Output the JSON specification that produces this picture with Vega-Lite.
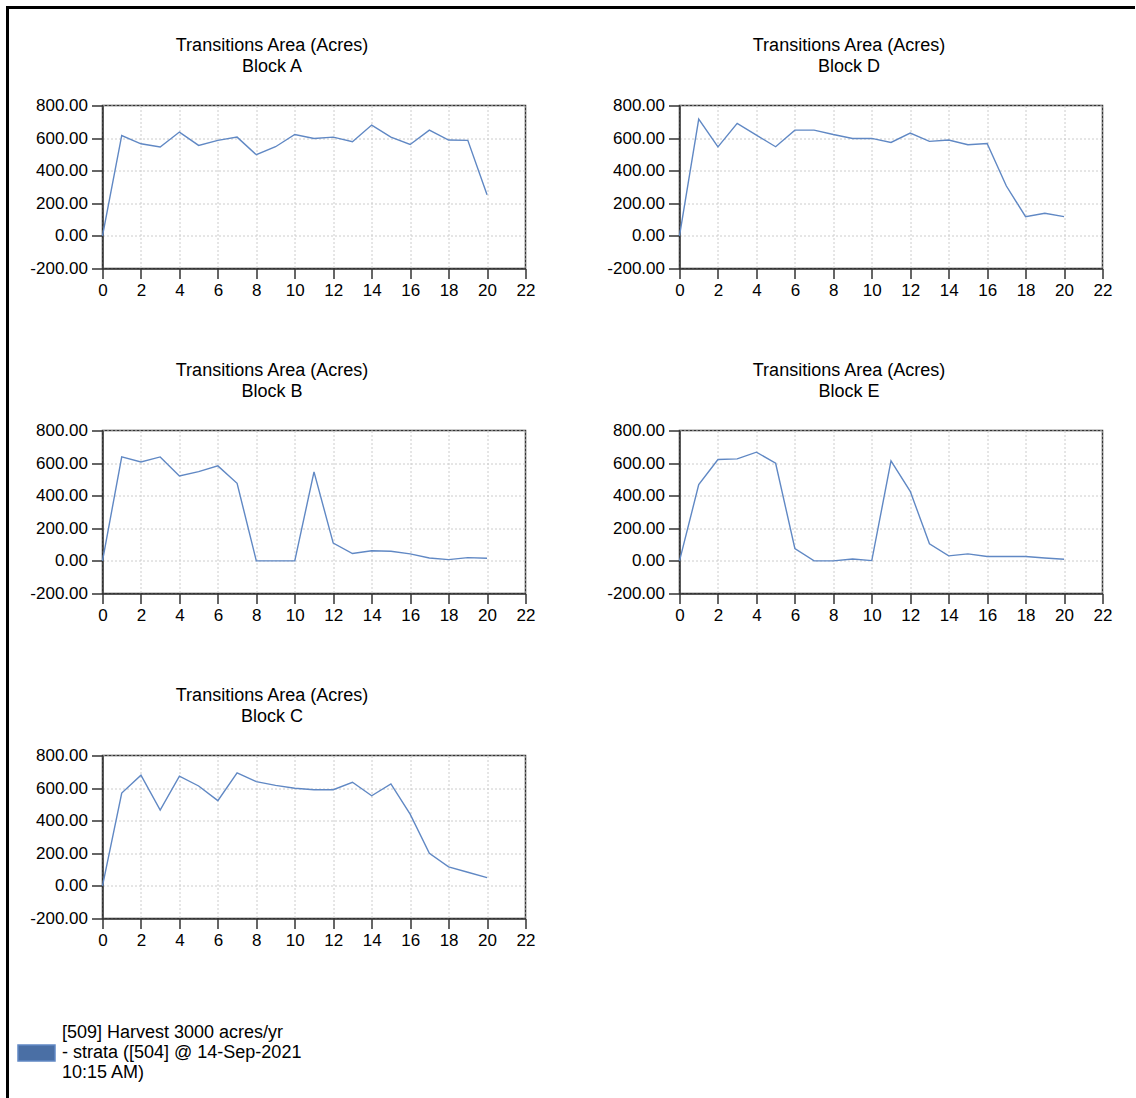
{
  "$schema": "https://vega.github.io/schema/vega-lite/v6.json",
  "padding": {"left": 5.5, "top": 5.5, "right": 0, "bottom": 0},
  "background": "white",
  "config": {
    "font": "Liberation Sans",
    "view": {"stroke": "#333333", "strokeWidth": 1.5},
    "axis": {
      "title": null,
      "labelFont": "Liberation Sans",
      "labelFontSize": 17,
      "labelColor": "#000000",
      "domainColor": "#333333",
      "domainWidth": 1.5,
      "tickColor": "#333333",
      "tickWidth": 1.5,
      "gridColor": "#cccccc",
      "gridDash": [2, 2],
      "gridWidth": 1,
      "labelFlush": false,
      "labelOverlap": false
    },
    "axisX": {"tickSize": 10, "labelPadding": 4},
    "axisY": {"tickSize": 11, "labelPadding": 4},
    "title": {
      "font": "Liberation Sans",
      "fontSize": 18,
      "fontWeight": "normal",
      "color": "#000000",
      "lineHeight": 20.5,
      "anchor": "middle",
      "dx": -42,
      "offset": 21,
      "baseline": "alphabetic"
    },
    "legend": {
      "padding": 0,
      "orient": "none",
      "legendX": 9.5,
      "legendY": 1006,
      "symbolType": "M-1,0.65H1V1.51H-1Z",
      "symbolSize": 1369,
      "symbolFillColor": "#4a6fa5",
      "symbolStrokeColor": "#1a1a1a",
      "symbolStrokeWidth": 1.5,
      "labelFont": "Liberation Sans",
      "labelFontSize": 18,
      "labelColor": "#000000",
      "labelLimit": 600,
      "labelOffset": 6
    }
  },
  "datasets": {
    "transitions": [
      {"block": "Block A", "timestep": 0, "acres": 0},
      {"block": "Block A", "timestep": 1, "acres": 616},
      {"block": "Block A", "timestep": 2, "acres": 565},
      {"block": "Block A", "timestep": 3, "acres": 545},
      {"block": "Block A", "timestep": 4, "acres": 637},
      {"block": "Block A", "timestep": 5, "acres": 555},
      {"block": "Block A", "timestep": 6, "acres": 586},
      {"block": "Block A", "timestep": 7, "acres": 606},
      {"block": "Block A", "timestep": 8, "acres": 498},
      {"block": "Block A", "timestep": 9, "acres": 547},
      {"block": "Block A", "timestep": 10, "acres": 622},
      {"block": "Block A", "timestep": 11, "acres": 598},
      {"block": "Block A", "timestep": 12, "acres": 606},
      {"block": "Block A", "timestep": 13, "acres": 578},
      {"block": "Block A", "timestep": 14, "acres": 680},
      {"block": "Block A", "timestep": 15, "acres": 606},
      {"block": "Block A", "timestep": 16, "acres": 561},
      {"block": "Block A", "timestep": 17, "acres": 649},
      {"block": "Block A", "timestep": 18, "acres": 588},
      {"block": "Block A", "timestep": 19, "acres": 586},
      {"block": "Block A", "timestep": 20, "acres": 252},
      {"block": "Block D", "timestep": 0, "acres": 0},
      {"block": "Block D", "timestep": 1, "acres": 716},
      {"block": "Block D", "timestep": 2, "acres": 546},
      {"block": "Block D", "timestep": 3, "acres": 690},
      {"block": "Block D", "timestep": 4, "acres": 618},
      {"block": "Block D", "timestep": 5, "acres": 547},
      {"block": "Block D", "timestep": 6, "acres": 649},
      {"block": "Block D", "timestep": 7, "acres": 649},
      {"block": "Block D", "timestep": 8, "acres": 622},
      {"block": "Block D", "timestep": 9, "acres": 598},
      {"block": "Block D", "timestep": 10, "acres": 598},
      {"block": "Block D", "timestep": 11, "acres": 573},
      {"block": "Block D", "timestep": 12, "acres": 631},
      {"block": "Block D", "timestep": 13, "acres": 580},
      {"block": "Block D", "timestep": 14, "acres": 588},
      {"block": "Block D", "timestep": 15, "acres": 559},
      {"block": "Block D", "timestep": 16, "acres": 567},
      {"block": "Block D", "timestep": 17, "acres": 306},
      {"block": "Block D", "timestep": 18, "acres": 118},
      {"block": "Block D", "timestep": 19, "acres": 139},
      {"block": "Block D", "timestep": 20, "acres": 118},
      {"block": "Block B", "timestep": 0, "acres": 0},
      {"block": "Block B", "timestep": 1, "acres": 638},
      {"block": "Block B", "timestep": 2, "acres": 607},
      {"block": "Block B", "timestep": 3, "acres": 638},
      {"block": "Block B", "timestep": 4, "acres": 521},
      {"block": "Block B", "timestep": 5, "acres": 548},
      {"block": "Block B", "timestep": 6, "acres": 583},
      {"block": "Block B", "timestep": 7, "acres": 476},
      {"block": "Block B", "timestep": 8, "acres": 0},
      {"block": "Block B", "timestep": 9, "acres": 0},
      {"block": "Block B", "timestep": 10, "acres": 0},
      {"block": "Block B", "timestep": 11, "acres": 546},
      {"block": "Block B", "timestep": 12, "acres": 109},
      {"block": "Block B", "timestep": 13, "acres": 45},
      {"block": "Block B", "timestep": 14, "acres": 62},
      {"block": "Block B", "timestep": 15, "acres": 59},
      {"block": "Block B", "timestep": 16, "acres": 43},
      {"block": "Block B", "timestep": 17, "acres": 18},
      {"block": "Block B", "timestep": 18, "acres": 8},
      {"block": "Block B", "timestep": 19, "acres": 20},
      {"block": "Block B", "timestep": 20, "acres": 16},
      {"block": "Block E", "timestep": 0, "acres": 0},
      {"block": "Block E", "timestep": 1, "acres": 468},
      {"block": "Block E", "timestep": 2, "acres": 622},
      {"block": "Block E", "timestep": 3, "acres": 626},
      {"block": "Block E", "timestep": 4, "acres": 667},
      {"block": "Block E", "timestep": 5, "acres": 599},
      {"block": "Block E", "timestep": 6, "acres": 76},
      {"block": "Block E", "timestep": 7, "acres": 0},
      {"block": "Block E", "timestep": 8, "acres": 0},
      {"block": "Block E", "timestep": 9, "acres": 12},
      {"block": "Block E", "timestep": 10, "acres": 2},
      {"block": "Block E", "timestep": 11, "acres": 613},
      {"block": "Block E", "timestep": 12, "acres": 427},
      {"block": "Block E", "timestep": 13, "acres": 105},
      {"block": "Block E", "timestep": 14, "acres": 31},
      {"block": "Block E", "timestep": 15, "acres": 43},
      {"block": "Block E", "timestep": 16, "acres": 27},
      {"block": "Block E", "timestep": 17, "acres": 27},
      {"block": "Block E", "timestep": 18, "acres": 27},
      {"block": "Block E", "timestep": 19, "acres": 18},
      {"block": "Block E", "timestep": 20, "acres": 10},
      {"block": "Block C", "timestep": 0, "acres": 0},
      {"block": "Block C", "timestep": 1, "acres": 570},
      {"block": "Block C", "timestep": 2, "acres": 679},
      {"block": "Block C", "timestep": 3, "acres": 465},
      {"block": "Block C", "timestep": 4, "acres": 673},
      {"block": "Block C", "timestep": 5, "acres": 613},
      {"block": "Block C", "timestep": 6, "acres": 523},
      {"block": "Block C", "timestep": 7, "acres": 693},
      {"block": "Block C", "timestep": 8, "acres": 640},
      {"block": "Block C", "timestep": 9, "acres": 617},
      {"block": "Block C", "timestep": 10, "acres": 599},
      {"block": "Block C", "timestep": 11, "acres": 590},
      {"block": "Block C", "timestep": 12, "acres": 590},
      {"block": "Block C", "timestep": 13, "acres": 636},
      {"block": "Block C", "timestep": 14, "acres": 553},
      {"block": "Block C", "timestep": 15, "acres": 626},
      {"block": "Block C", "timestep": 16, "acres": 440},
      {"block": "Block C", "timestep": 17, "acres": 200},
      {"block": "Block C", "timestep": 18, "acres": 117},
      {"block": "Block C", "timestep": 19, "acres": 84},
      {"block": "Block C", "timestep": 20, "acres": 51}
    ]
  },
  "bounds": "flush",
  "spacing": 0,
  "vconcat": [
    {
      "width": 1126,
      "height": 0.01,
      "view": {"stroke": "#000000", "strokeWidth": 3},
      "data": {"values": []},
      "mark": "point"
    },
    {
      "bounds": "flush",
      "spacing": 94,
      "hconcat": [
        {
          "width": 0.01,
          "height": 1088,
          "view": {"stroke": "#000000", "strokeWidth": 3},
          "data": {"values": []},
          "mark": "point"
        },
        {
          "bounds": "flush",
          "spacing": 96,
          "vconcat": [
            {
              "width": 0.01,
              "height": 0.01,
              "view": {"stroke": null},
              "data": {"values": []},
              "mark": "point"
            },
            {
              "bounds": "flush",
              "spacing": 325,
              "vconcat": [
                {
                  "bounds": "flush",
                  "spacing": 154,
                  "hconcat": [
                    {
                      "width": 423, "height": 163,
                      "title": {"text": ["Transitions Area (Acres)", "Block A"]},
                      "data": {"name": "transitions"},
                      "transform": [{"filter": "datum.block === 'Block A'"}],
                      "mark": {"type": "line", "strokeWidth": 1.4},
                      "encoding": {
                        "x": {"field": "timestep", "type": "quantitative", "scale": {"domain": [0, 22], "nice": false}, "axis": {"values": [0, 2, 4, 6, 8, 10, 12, 14, 16, 18, 20, 22]}},
                        "y": {"field": "acres", "type": "quantitative", "scale": {"domain": [-200, 800], "nice": false, "zero": false}, "axis": {"values": [-200, 0, 200, 400, 600, 800], "labelExpr": "(datum.value < 0 ? '-' : '') + format(abs(datum.value), '.2f')"}},
                        "color": {
                          "datum": "[509] Harvest 3000 acres/yr - strata ([504] @ 14-Sep-2021 10:15 AM)",
                          "type": "nominal",
                          "scale": {"range": ["#6088c4"]},
                          "legend": {
                            "title": null,
                            "labelExpr": "[slice(datum.label, 0, 27), slice(datum.label, 28, 57), slice(datum.label, 58)]",
                            "encoding": {
                              "symbols": {"update": {"fill": {"value": "#4a6fa5"}, "fillOpacity": {"value": 1}, "stroke": {"value": "#1a1a1a"}, "strokeWidth": {"value": 1.5}, "opacity": {"value": 1}}},
                              "labels": {"update": {"lineHeight": {"value": 20}}}
                            }
                          }
                        }
                      }
                    },
                    {
                      "width": 423, "height": 163,
                      "title": {"text": ["Transitions Area (Acres)", "Block D"]},
                      "data": {"name": "transitions"},
                      "transform": [{"filter": "datum.block === 'Block D'"}],
                      "mark": {"type": "line", "strokeWidth": 1.4},
                      "encoding": {
                        "x": {"field": "timestep", "type": "quantitative", "scale": {"domain": [0, 22], "nice": false}, "axis": {"values": [0, 2, 4, 6, 8, 10, 12, 14, 16, 18, 20, 22]}},
                        "y": {"field": "acres", "type": "quantitative", "scale": {"domain": [-200, 800], "nice": false, "zero": false}, "axis": {"values": [-200, 0, 200, 400, 600, 800], "labelExpr": "(datum.value < 0 ? '-' : '') + format(abs(datum.value), '.2f')"}},
                        "color": {
                          "datum": "[509] Harvest 3000 acres/yr - strata ([504] @ 14-Sep-2021 10:15 AM)",
                          "type": "nominal",
                          "legend": {
                            "title": null,
                            "labelExpr": "[slice(datum.label, 0, 27), slice(datum.label, 28, 57), slice(datum.label, 58)]",
                            "encoding": {
                              "symbols": {"update": {"fill": {"value": "#4a6fa5"}, "fillOpacity": {"value": 1}, "stroke": {"value": "#1a1a1a"}, "strokeWidth": {"value": 1.5}, "opacity": {"value": 1}}},
                              "labels": {"update": {"lineHeight": {"value": 20}}}
                            }
                          }
                        }
                      }
                    }
                  ]
                },
                {
                  "bounds": "flush",
                  "spacing": 154,
                  "hconcat": [
                    {
                      "width": 423, "height": 163,
                      "title": {"text": ["Transitions Area (Acres)", "Block B"]},
                      "data": {"name": "transitions"},
                      "transform": [{"filter": "datum.block === 'Block B'"}],
                      "mark": {"type": "line", "strokeWidth": 1.4},
                      "encoding": {
                        "x": {"field": "timestep", "type": "quantitative", "scale": {"domain": [0, 22], "nice": false}, "axis": {"values": [0, 2, 4, 6, 8, 10, 12, 14, 16, 18, 20, 22]}},
                        "y": {"field": "acres", "type": "quantitative", "scale": {"domain": [-200, 800], "nice": false, "zero": false}, "axis": {"values": [-200, 0, 200, 400, 600, 800], "labelExpr": "(datum.value < 0 ? '-' : '') + format(abs(datum.value), '.2f')"}},
                        "color": {
                          "datum": "[509] Harvest 3000 acres/yr - strata ([504] @ 14-Sep-2021 10:15 AM)",
                          "type": "nominal",
                          "legend": {
                            "title": null,
                            "labelExpr": "[slice(datum.label, 0, 27), slice(datum.label, 28, 57), slice(datum.label, 58)]",
                            "encoding": {
                              "symbols": {"update": {"fill": {"value": "#4a6fa5"}, "fillOpacity": {"value": 1}, "stroke": {"value": "#1a1a1a"}, "strokeWidth": {"value": 1.5}, "opacity": {"value": 1}}},
                              "labels": {"update": {"lineHeight": {"value": 20}}}
                            }
                          }
                        }
                      }
                    },
                    {
                      "width": 423, "height": 163,
                      "title": {"text": ["Transitions Area (Acres)", "Block E"]},
                      "data": {"name": "transitions"},
                      "transform": [{"filter": "datum.block === 'Block E'"}],
                      "mark": {"type": "line", "strokeWidth": 1.4},
                      "encoding": {
                        "x": {"field": "timestep", "type": "quantitative", "scale": {"domain": [0, 22], "nice": false}, "axis": {"values": [0, 2, 4, 6, 8, 10, 12, 14, 16, 18, 20, 22]}},
                        "y": {"field": "acres", "type": "quantitative", "scale": {"domain": [-200, 800], "nice": false, "zero": false}, "axis": {"values": [-200, 0, 200, 400, 600, 800], "labelExpr": "(datum.value < 0 ? '-' : '') + format(abs(datum.value), '.2f')"}},
                        "color": {
                          "datum": "[509] Harvest 3000 acres/yr - strata ([504] @ 14-Sep-2021 10:15 AM)",
                          "type": "nominal",
                          "legend": {
                            "title": null,
                            "labelExpr": "[slice(datum.label, 0, 27), slice(datum.label, 28, 57), slice(datum.label, 58)]",
                            "encoding": {
                              "symbols": {"update": {"fill": {"value": "#4a6fa5"}, "fillOpacity": {"value": 1}, "stroke": {"value": "#1a1a1a"}, "strokeWidth": {"value": 1.5}, "opacity": {"value": 1}}},
                              "labels": {"update": {"lineHeight": {"value": 20}}}
                            }
                          }
                        }
                      }
                    }
                  ]
                },
                {
                  "width": 423, "height": 163,
                  "title": {"text": ["Transitions Area (Acres)", "Block C"]},
                  "data": {"name": "transitions"},
                  "transform": [{"filter": "datum.block === 'Block C'"}],
                  "mark": {"type": "line", "strokeWidth": 1.4},
                  "encoding": {
                    "x": {"field": "timestep", "type": "quantitative", "scale": {"domain": [0, 22], "nice": false}, "axis": {"values": [0, 2, 4, 6, 8, 10, 12, 14, 16, 18, 20, 22]}},
                    "y": {"field": "acres", "type": "quantitative", "scale": {"domain": [-200, 800], "nice": false, "zero": false}, "axis": {"values": [-200, 0, 200, 400, 600, 800], "labelExpr": "(datum.value < 0 ? '-' : '') + format(abs(datum.value), '.2f')"}},
                    "color": {
                      "datum": "[509] Harvest 3000 acres/yr - strata ([504] @ 14-Sep-2021 10:15 AM)",
                      "type": "nominal",
                      "legend": {
                        "title": null,
                        "labelExpr": "[slice(datum.label, 0, 27), slice(datum.label, 28, 57), slice(datum.label, 58)]",
                        "encoding": {
                          "symbols": {"update": {"fill": {"value": "#4a6fa5"}, "fillOpacity": {"value": 1}, "stroke": {"value": "#1a1a1a"}, "strokeWidth": {"value": 1.5}, "opacity": {"value": 1}}},
                          "labels": {"update": {"lineHeight": {"value": 20}}}
                        }
                      }
                    }
                  }
                }
              ]
            }
          ]
        }
      ]
    }
  ]
}
